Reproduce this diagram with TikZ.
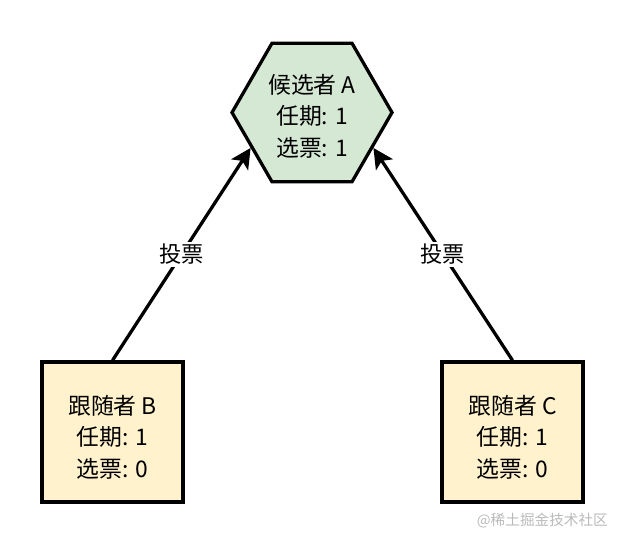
\documentclass[tikz,border=0pt]{standalone}
\usepackage{fontspec}
\setmainfont{Noto Sans CJK SC}
\usetikzlibrary{shapes}
\usetikzlibrary{shapes.geometric}
\usetikzlibrary{positioning}
\usetikzlibrary{arrows.meta}
\definecolor{candfill}{HTML}{D5E8D4}
\definecolor{follfill}{HTML}{FFF2CC}
\tikzset{
    candnode/.style = {regular polygon, regular polygon sides=6, minimum size=4.8cm, inner sep=0pt, line width=2.8pt, draw=black, fill=candfill},
    follnode/.style = {rectangle, minimum width=4.23cm, minimum height=4.2cm, line width=2.8pt, draw=black, fill=follfill},
    txtnode/.style = {align=center, font=\fontsize{19.5}{27}\selectfont, text=black},
    votelabel/.style = {fill=white, inner sep=2pt, font=\fontsize{19}{22}\selectfont},
    edgev/.style = {line width=2.8pt, black, -{Stealth[length=0.6cm, width=0.6cm, inset=0.14cm]}},
    marknode/.style = {font=\fontsize{12.5}{14}\selectfont, text=black!27}
}
\begin{document}
\begin{tikzpicture}[x=0.03cm, y=-0.03cm]
\path[use as bounding box] (0,0) rectangle (624,544);
%
\node[candnode] at (312,112.5) (A) {};
\node[txtnode] at (312,116) (At) {候选者 A\\任期: 1\\选票: 1};
\node[follnode] at (112.5,432) (B) {};
\node[txtnode] at (112.5,437) (Bt) {跟随者 B\\任期: 1\\选票: 0};
\node[follnode] at (512.5,432) (C) {};
\node[txtnode] at (512.5,437) (Ct) {跟随者 C\\任期: 1\\选票: 0};
%
\draw[edgev] (B.north) -- node[votelabel] {投票} (A.210);
\draw[edgev] (C.north) -- node[votelabel] {投票} (A.330);
%
\node[marknode, anchor=east] at (612,521) (wm) {@稀土掘金技术社区};
\end{tikzpicture}
\end{document}
